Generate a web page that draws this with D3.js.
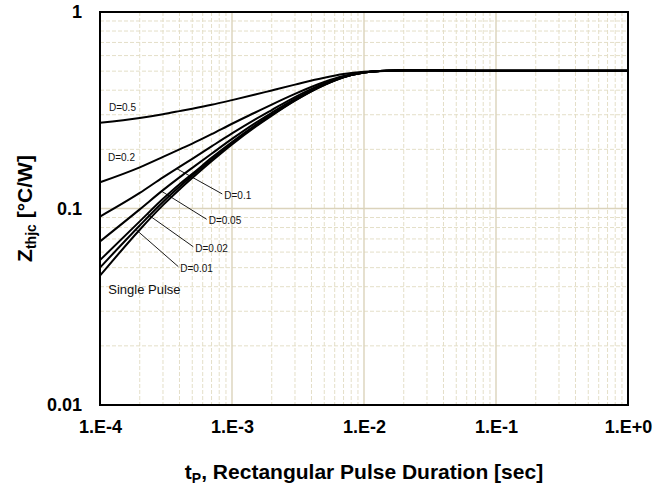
<!DOCTYPE html>
<html>
<head>
<meta charset="utf-8">
<script src="https://cdn.jsdelivr.net/npm/d3@7"></script>
<style>
  html, body { margin: 0; padding: 0; background: #fff; }
  svg { display: block; font-family: "Liberation Sans", Arial, sans-serif; }
</style>
</head>
<body>
<svg id="chart" width="656" height="485"></svg>
<script>
// ---- data ----
const pulseTimes = [1e-4, 2e-4, 3e-4, 4e-4, 5e-4, 7e-4, 1e-3, 1.5e-3, 2e-3, 3e-3, 5e-3, 7e-3, 1e-2, 1.5e-2, 2e-2, 5e-2, 1e-1, 1];
const singlePulse = [0.0455, 0.078, 0.104, 0.125, 0.143, 0.174, 0.212, 0.260, 0.297, 0.354, 0.425, 0.465, 0.492, 0.503, 0.505, 0.504, 0.502, 0.502];
const duty001 = [0.050, 0.082, 0.108, 0.129, 0.147, 0.177, 0.215, 0.262, 0.299, 0.355, 0.426, 0.465, 0.492, 0.503, 0.505, 0.504, 0.502, 0.502];
const duty002 = [0.0546, 0.086, 0.112, 0.133, 0.150, 0.181, 0.218, 0.265, 0.301, 0.357, 0.427, 0.466, 0.492, 0.503, 0.505, 0.504, 0.502, 0.502];
const duty005 = [0.068, 0.099, 0.124, 0.144, 0.161, 0.190, 0.226, 0.272, 0.307, 0.361, 0.429, 0.467, 0.492, 0.503, 0.505, 0.504, 0.502, 0.502];
const duty01 = [0.091, 0.120, 0.144, 0.163, 0.179, 0.207, 0.241, 0.284, 0.317, 0.369, 0.433, 0.469, 0.493, 0.503, 0.505, 0.504, 0.502, 0.502];
const duty02 = [0.136, 0.162, 0.183, 0.200, 0.214, 0.239, 0.270, 0.308, 0.338, 0.383, 0.440, 0.472, 0.494, 0.502, 0.504, 0.503, 0.502, 0.502];
const duty05 = [0.273, 0.289, 0.302, 0.313, 0.322, 0.337, 0.356, 0.380, 0.399, 0.427, 0.463, 0.483, 0.496, 0.502, 0.503, 0.502, 0.501, 0.501];

const xTickValues = [1e-4, 1e-3, 1e-2, 1e-1, 1];
const xTickLabels = ["1.E-4", "1.E-3", "1.E-2", "1.E-1", "1.E+0"];
const yTickValues = [0.01, 0.1, 1];
const yTickLabels = ["0.01", "0.1", "1"];

// free labels (text anchored at data coordinates)
const freeLabels = [
  { text: "D=0.5", t: 1.17e-4, z: 0.3146, size: 10 },
  { text: "D=0.2", t: 1.15e-4, z: 0.175, size: 10 },
  { text: "Single Pulse", t: 1.156e-4, z: 0.0367, size: 13 }
];
// labels with leader lines: start on the series at t0, end at (t1, z1)
const leaderLabels = [
  { text: "D=0.1", series: duty01, t0: 3.81e-4, t1: 8.44e-4, z1: 0.1186 },
  { text: "D=0.05", series: duty005, t0: 2.93e-4, t1: 6.43e-4, z1: 0.0881 },
  { text: "D=0.02", series: duty002, t0: 2.28e-4, t1: 5.09e-4, z1: 0.0639 },
  { text: "D=0.01", series: duty001, t0: 1.87e-4, t1: 3.92e-4, z1: 0.0506 }
];

const seriesList = [singlePulse, duty001, duty002, duty005, duty01, duty02, duty05];

// ---- layout ----
const plot = { left: 100, right: 628, top: 12, bottom: 405 };

const svg = d3.select("#chart");
const x = d3.scaleLog().domain([1e-4, 1]).range([plot.left, plot.right]);
const y = d3.scaleLog().domain([0.01, 1]).range([plot.bottom, plot.top]);

// grid
const minorX = [];
for (let e = -4; e < 0; e++) for (let k = 2; k <= 9; k++) minorX.push(k * Math.pow(10, e));
const minorY = [];
for (let e = -2; e < 0; e++) for (let k = 2; k <= 9; k++) minorY.push(k * Math.pow(10, e));

const grid = svg.append("g");
grid.selectAll(".mx").data(minorX).join("line")
  .attr("x1", d => x(d)).attr("x2", d => x(d))
  .attr("y1", plot.top).attr("y2", plot.bottom)
  .attr("stroke", "#e4dfc8").attr("stroke-width", 1).attr("stroke-dasharray", "4,2");
grid.selectAll(".my").data(minorY).join("line")
  .attr("y1", d => y(d)).attr("y2", d => y(d))
  .attr("x1", plot.left).attr("x2", plot.right)
  .attr("stroke", "#e4dfc8").attr("stroke-width", 1).attr("stroke-dasharray", "4,2");
grid.selectAll(".Mx").data(xTickValues.slice(1, -1)).join("line")
  .attr("x1", d => x(d)).attr("x2", d => x(d))
  .attr("y1", plot.top).attr("y2", plot.bottom)
  .attr("stroke", "#dbd3bb").attr("stroke-width", 1.4);
grid.selectAll(".My").data(yTickValues.slice(1, -1)).join("line")
  .attr("y1", d => y(d)).attr("y2", d => y(d))
  .attr("x1", plot.left).attr("x2", plot.right)
  .attr("stroke", "#dbd3bb").attr("stroke-width", 1.4);

// curves
const line = d3.line()
  .x((d, i) => x(pulseTimes[i]))
  .y(d => y(d))
  .curve(d3.curveMonotoneX);

svg.append("g").selectAll("path").data(seriesList).join("path")
  .attr("d", d => line(d))
  .attr("fill", "none").attr("stroke", "#000").attr("stroke-width", 2);

// frame
svg.append("rect")
  .attr("x", plot.left).attr("y", plot.top)
  .attr("width", plot.right - plot.left).attr("height", plot.bottom - plot.top)
  .attr("fill", "none").attr("stroke", "#000").attr("stroke-width", 2);

// axes
const xAxis = d3.axisBottom(x).tickValues(xTickValues)
  .tickFormat((d, i) => xTickLabels[i]).tickSize(0).tickPadding(15);
const gx = svg.append("g").attr("transform", `translate(0,${plot.bottom})`).call(xAxis);
gx.select(".domain").remove();
gx.selectAll("text").attr("font-size", 18).attr("font-weight", "bold")
  .attr("font-family", "Liberation Sans, Arial, sans-serif").attr("fill", "#000");

const yAxis = d3.axisLeft(y).tickValues(yTickValues)
  .tickFormat((d, i) => yTickLabels[i]).tickSize(0).tickPadding(18);
const gy = svg.append("g").attr("transform", `translate(${plot.left},0)`).call(yAxis);
gy.select(".domain").remove();
gy.selectAll("text").attr("font-size", 18).attr("font-weight", "bold")
  .attr("font-family", "Liberation Sans, Arial, sans-serif").attr("fill", "#000");

// axis titles
const xt = svg.append("text")
  .attr("x", (plot.left + plot.right) / 2).attr("y", 479)
  .attr("text-anchor", "middle").attr("font-size", 21).attr("font-weight", "bold");
xt.append("tspan").text("t");
xt.append("tspan").text("P").attr("font-size", 14).attr("dy", 4);
xt.append("tspan").text(", Rectangular Pulse Duration [sec]").attr("dy", -4);

const yt = svg.append("text")
  .attr("transform", `translate(32,${(plot.top + plot.bottom) / 2}) rotate(-90)`)
  .attr("text-anchor", "middle").attr("font-size", 21).attr("font-weight", "bold");
yt.append("tspan").text("Z");
yt.append("tspan").text("thjc").attr("font-size", 14).attr("dy", 4);
yt.append("tspan").text(" [°C/W]").attr("dy", -4);

// annotations
const ann = svg.append("g").attr("font-family", "Liberation Sans, Arial, sans-serif");
ann.selectAll(".free").data(freeLabels).join("text")
  .attr("x", d => x(d.t)).attr("y", d => y(d.z))
  .attr("font-size", d => d.size).attr("fill", "#111").text(d => d.text);

function valueAt(series, t) {
  const lt = Math.log10(t);
  for (let i = 0; i < pulseTimes.length - 1; i++) {
    const a = Math.log10(pulseTimes[i]), b = Math.log10(pulseTimes[i + 1]);
    if (lt >= a && lt <= b) {
      const f = (lt - a) / (b - a);
      return Math.pow(10, Math.log10(series[i]) * (1 - f) + Math.log10(series[i + 1]) * f);
    }
  }
  return series[series.length - 1];
}

ann.selectAll(".lead").data(leaderLabels).join("line")
  .attr("x1", d => x(d.t0)).attr("y1", d => y(valueAt(d.series, d.t0)))
  .attr("x2", d => x(d.t1)).attr("y2", d => y(d.z1))
  .attr("stroke", "#000").attr("stroke-width", 0.9);
ann.selectAll(".leadtext").data(leaderLabels).join("text")
  .attr("x", d => x(d.t1) + 2).attr("y", d => y(d.z1) + 5)
  .attr("font-size", 10).attr("fill", "#111").text(d => d.text);
</script>
</body>
</html>
